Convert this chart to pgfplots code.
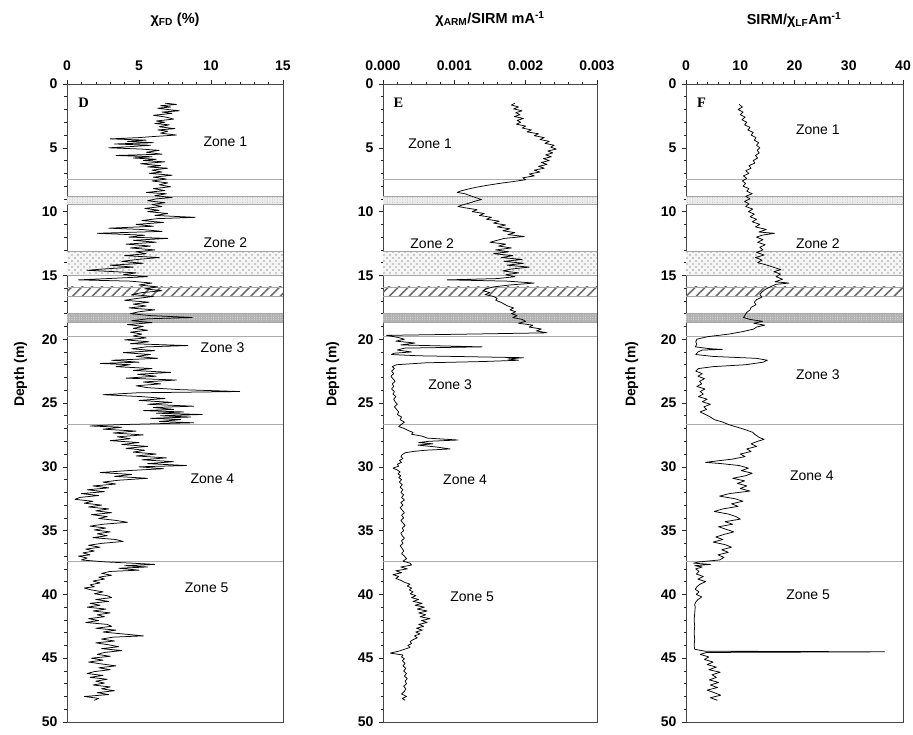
\documentclass[border=0pt]{standalone}
\usepackage{fontspec}
\setmainfont{Liberation Sans}
\newfontfamily\serifbf{Liberation Serif}
\usepackage{pgfplots}
\pgfplotsset{compat=1.18}
\usetikzlibrary{patterns,patterns.meta}

\pgfplotstableread{
d v
1.5 6.8
1.6 7.6
1.7 6.5
1.8 7.2
1.9 6.3
2.0 7.0
2.1 7.8
2.2 6.6
2.3 7.3
2.45 6.0
2.6 6.9
2.75 7.4
2.9 6.2
3.0 6.8
3.1 6.1
3.2 7.1
3.35 6.4
3.5 7.5
3.6 6.3
3.7 7.0
3.85 6.5
4.0 7.6
4.1 6.2
4.2 5.0
4.3 3.0
4.4 5.5
4.5 4.2
4.6 6.0
4.7 3.3
4.8 5.8
4.9 4.5
5.0 2.9
5.1 5.2
5.2 6.4
5.35 5.5
5.5 6.6
5.6 3.4
5.7 5.9
5.8 4.6
5.9 6.2
6.0 5.3
6.1 6.8
6.25 5.1
6.4 6.5
6.5 5.6
6.6 7.0
6.75 5.9
6.9 6.6
7.0 5.7
7.15 7.3
7.3 6.0
7.45 6.9
7.6 5.9
7.75 7.0
7.9 6.4
8.05 7.2
8.2 6.0
8.35 6.8
8.5 5.5
8.6 6.9
8.75 6.1
8.9 7.3
9.0 6.2
9.15 5.6
9.3 6.8
9.45 5.9
9.6 6.6
9.75 5.4
9.9 6.4
10.0 5.6
10.15 7.0
10.3 6.1
10.45 8.9
10.55 6.3
10.7 5.2
10.85 6.7
11.0 4.8
11.15 6.0
11.3 2.9
11.4 5.2
11.55 6.6
11.7 2.1
11.85 5.4
12.0 4.3
12.1 7.0
12.25 4.6
12.4 6.2
12.55 4.1
12.7 5.8
12.85 4.4
13.0 6.1
13.15 4.8
13.3 5.5
13.45 4.0
13.6 6.4
13.75 4.9
13.9 3.8
14.05 5.3
14.2 3.0
14.35 4.6
14.5 2.5
14.6 1.4
14.7 3.2
14.8 4.8
14.95 3.9
15.1 5.6
15.25 2.8
15.35 0.8
15.45 4.4
15.6 5.9
15.75 5.0
15.9 6.3
16.05 5.4
16.2 6.6
16.35 5.2
16.5 4.5
16.65 6.0
16.8 4.9
16.95 4.0
17.1 5.7
17.25 4.6
17.4 5.5
17.55 4.3
17.7 6.1
17.85 5.0
18.0 4.4
18.15 5.8
18.3 8.7
18.4 5.6
18.55 4.5
18.7 5.9
18.85 4.2
19.0 5.3
19.15 4.6
19.3 5.6
19.45 4.4
19.6 5.2
19.75 4.6
19.9 5.5
20.05 4.0
20.2 5.7
20.35 4.4
20.5 8.4
20.6 5.5
20.75 4.5
20.9 6.1
21.05 3.9
21.2 5.8
21.35 4.8
21.5 6.3
21.65 3.1
21.8 5.0
21.9 2.3
22.0 4.4
22.15 3.4
22.3 5.9
22.45 4.6
22.6 7.2
22.75 4.9
22.9 6.2
23.05 4.1
23.2 7.6
23.35 5.3
23.5 6.5
23.65 4.8
23.8 5.6
23.95 7.8
24.1 12.0
24.2 4.9
24.35 2.5
24.5 5.2
24.65 6.8
24.8 5.0
24.95 7.3
25.1 5.6
25.25 8.8
25.35 6.0
25.5 7.4
25.6 5.3
25.7 8.1
25.8 6.2
25.9 9.4
26.0 6.5
26.1 8.6
26.2 5.8
26.3 7.9
26.45 6.4
26.55 8.8
26.7 3.5
26.8 1.6
26.9 3.8
27.05 2.5
27.2 4.8
27.35 3.2
27.5 5.3
27.65 3.5
27.8 4.4
27.95 3.0
28.1 5.0
28.25 3.8
28.4 5.6
28.55 4.1
28.7 5.4
28.85 4.6
29.0 6.2
29.15 4.8
29.3 6.9
29.45 5.2
29.6 7.4
29.75 5.6
29.9 8.3
30.0 5.0
30.15 6.7
30.3 4.2
30.45 2.3
30.6 4.5
30.75 3.3
30.9 5.6
31.05 3.6
31.2 2.5
31.35 3.4
31.5 1.8
31.65 2.9
31.8 1.4
31.95 2.6
32.1 1.0
32.25 2.2
32.4 0.9
32.55 0.55
32.7 1.8
32.85 1.2
33.0 2.4
33.15 1.5
33.3 2.9
33.45 2.0
33.6 3.1
33.75 1.7
33.9 2.8
34.05 2.2
34.2 3.4
34.35 4.2
34.5 2.5
34.65 1.6
34.8 2.7
34.95 1.9
35.1 3.0
35.25 2.1
35.4 2.8
35.55 1.8
35.7 3.4
35.85 3.9
36.0 2.4
36.15 1.5
36.3 2.3
36.45 1.3
36.6 1.9
36.75 1.1
36.9 1.6
37.0 0.8
37.15 1.4
37.3 1.0
37.45 2.6
37.55 4.5
37.65 6.1
37.75 4.0
37.85 5.6
37.95 3.6
38.1 5.0
38.2 3.0
38.35 2.4
38.5 3.1
38.65 2.2
38.8 2.6
38.95 1.8
39.1 2.3
39.25 1.6
39.4 1.9
39.5 1.2
39.65 1.7
39.8 2.5
39.95 1.9
40.1 2.8
40.25 3.1
40.4 2.0
40.55 2.9
40.7 1.6
40.85 2.3
41.0 1.4
41.15 2.7
41.3 1.8
41.45 3.0
41.6 2.1
41.75 2.6
41.9 1.5
42.05 2.2
42.2 1.3
42.35 2.8
42.5 3.1
42.65 2.0
42.8 3.4
42.95 2.5
43.1 3.9
43.25 5.3
43.35 3.2
43.5 2.4
43.65 3.3
43.8 2.0
43.95 2.9
44.1 3.6
44.25 2.4
44.4 3.8
44.55 2.6
44.7 2.1
44.85 3.0
45.0 1.7
45.15 2.5
45.3 1.5
45.45 2.4
45.6 3.4
45.75 2.2
45.9 3.0
46.05 1.9
46.2 1.4
46.35 2.5
46.5 1.6
46.65 2.8
46.8 2.0
46.95 2.6
47.1 1.8
47.25 3.0
47.4 2.4
47.55 3.3
47.7 2.1
47.85 2.9
48.0 1.2
48.15 2.2
48.3 1.9
}\tabD

\pgfplotstableread{
d v
1.5 0.00185
1.65 0.00180
1.8 0.00190
1.95 0.00183
2.1 0.00195
2.25 0.00186
2.4 0.00192
2.55 0.00184
2.7 0.00197
2.85 0.00188
3.0 0.00193
3.15 0.00187
3.3 0.00200
3.45 0.00195
3.6 0.00208
3.75 0.00202
3.9 0.00218
4.05 0.00212
4.2 0.00226
4.35 0.00220
4.5 0.00233
4.65 0.00227
4.8 0.00240
4.95 0.00235
5.1 0.00243
5.25 0.00231
5.4 0.00238
5.55 0.00228
5.7 0.00236
5.85 0.00225
6.0 0.00233
6.15 0.00222
6.3 0.00230
6.45 0.00218
6.6 0.00226
6.75 0.00212
6.9 0.00220
7.05 0.00205
7.2 0.00212
7.35 0.00196
7.5 0.00200
7.65 0.00182
7.8 0.00162
7.95 0.00145
8.1 0.00130
8.25 0.00118
8.4 0.00108
8.5 0.00104
8.6 0.00115
8.75 0.00122
8.9 0.00130
9.05 0.00138
9.2 0.00128
9.35 0.00120
9.5 0.00110
9.6 0.00105
9.7 0.00115
9.85 0.00132
10.0 0.00125
10.15 0.00142
10.3 0.00135
10.45 0.00152
10.6 0.00145
10.75 0.00163
10.9 0.00155
11.05 0.00172
11.2 0.00160
11.35 0.00178
11.5 0.00168
11.65 0.00185
11.8 0.00175
11.95 0.00198
12.1 0.00170
12.25 0.00160
12.4 0.00150
12.55 0.00172
12.7 0.00162
12.85 0.00180
13.0 0.00158
13.15 0.00176
13.3 0.00155
13.45 0.00182
13.6 0.00166
13.75 0.00195
13.9 0.00170
14.05 0.00197
14.2 0.00174
14.35 0.00205
14.5 0.00180
14.65 0.00168
14.8 0.00190
14.95 0.00172
15.1 0.00185
15.25 0.00160
15.35 0.00090
15.45 0.00175
15.6 0.00212
15.75 0.00178
15.9 0.00155
16.05 0.00145
16.2 0.00140
16.35 0.00150
16.5 0.00143
16.65 0.00155
16.8 0.00160
16.95 0.00158
17.1 0.00165
17.25 0.00170
17.4 0.00175
17.55 0.00183
17.7 0.00178
17.85 0.00186
18.0 0.00180
18.15 0.00188
18.3 0.00182
18.45 0.00195
18.6 0.00200
18.75 0.00190
18.9 0.00210
19.05 0.00205
19.2 0.00222
19.35 0.00215
19.5 0.00230
19.6 0.00120
19.7 0.00005
19.85 0.00020
20.0 0.00030
20.15 0.00018
20.3 0.00045
20.45 0.00025
20.6 0.00139
20.7 0.00030
20.85 0.00020
21.0 0.00040
21.1 0.00015
21.2 0.00012
21.3 0.00050
21.45 0.00197
21.55 0.00175
21.65 0.00190
21.75 0.00140
21.85 0.00060
22.0 0.00019
22.15 0.00013
22.3 0.00016
22.5 0.00012
22.7 0.00015
22.9 0.00011
23.1 0.00014
23.3 0.00017
23.5 0.00013
23.7 0.00015
23.9 0.00012
24.1 0.00016
24.3 0.00014
24.5 0.00018
24.7 0.00015
24.9 0.00017
25.1 0.00020
25.3 0.00016
25.5 0.00019
25.7 0.00022
25.9 0.00020
26.1 0.00026
26.3 0.00024
26.5 0.00030
26.7 0.00025
26.85 0.00022
27.0 0.00030
27.15 0.00035
27.3 0.00042
27.45 0.00040
27.6 0.00055
27.75 0.00062
27.9 0.00105
28.0 0.00065
28.1 0.00050
28.2 0.00070
28.3 0.00049
28.45 0.00075
28.6 0.00094
28.7 0.00060
28.8 0.00042
28.9 0.00031
29.05 0.00027
29.2 0.00025
29.35 0.00028
29.5 0.00023
29.65 0.00026
29.8 0.00020
29.95 0.00022
30.1 0.00014
30.25 0.00020
30.4 0.00024
30.55 0.00021
30.7 0.00025
30.85 0.00022
31.0 0.00026
31.2 0.00023
31.4 0.00027
31.6 0.00024
31.8 0.00028
32.0 0.00025
32.2 0.00029
32.4 0.00026
32.6 0.00030
32.8 0.00025
33.0 0.00028
33.2 0.00024
33.4 0.00027
33.6 0.00030
33.8 0.00026
34.0 0.00029
34.2 0.00025
34.4 0.00028
34.6 0.00031
34.8 0.00027
35.0 0.00029
35.2 0.00025
35.4 0.00027
35.6 0.00030
35.8 0.00026
36.0 0.00028
36.2 0.00024
36.4 0.00027
36.6 0.00029
36.8 0.00026
37.0 0.00030
37.2 0.00033
37.4 0.00028
37.55 0.00038
37.7 0.00040
37.85 0.00025
38.0 0.00034
38.15 0.00018
38.3 0.00026
38.45 0.00014
38.6 0.00022
38.75 0.00018
38.9 0.00025
39.05 0.00030
39.2 0.00038
39.35 0.00034
39.5 0.00040
39.65 0.00037
39.8 0.00042
39.95 0.00038
40.1 0.00046
40.25 0.00040
40.4 0.00050
40.55 0.00042
40.7 0.00055
40.85 0.00045
41.0 0.00058
41.15 0.00048
41.3 0.00062
41.45 0.00050
41.6 0.00060
41.75 0.00052
41.9 0.00066
42.05 0.00054
42.2 0.00062
42.35 0.00050
42.5 0.00057
42.65 0.00047
42.8 0.00055
42.95 0.00046
43.1 0.00052
43.25 0.00044
43.4 0.00048
43.55 0.00042
43.7 0.00038
43.85 0.00040
44.0 0.00035
44.15 0.00038
44.3 0.00030
44.45 0.00022
44.6 0.00010
44.75 0.00028
44.9 0.00026
45.05 0.00030
45.2 0.00027
45.4 0.00031
45.6 0.00028
45.8 0.00032
46.0 0.00029
46.2 0.00033
46.4 0.00030
46.6 0.00034
46.8 0.00031
47.0 0.00033
47.2 0.00029
47.4 0.00032
47.6 0.00030
47.8 0.00026
48.0 0.00033
48.15 0.00027
48.3 0.00031
}\tabE

\pgfplotstableread{
d v
1.6 9.8
1.8 10.4
2.0 9.6
2.2 10.5
2.4 10.0
2.6 10.9
2.8 10.3
3.0 11.2
3.2 10.8
3.4 11.8
3.6 11.4
3.8 12.4
4.0 12.0
4.2 12.9
4.4 12.6
4.6 13.4
4.8 13.0
5.0 13.6
5.2 13.1
5.4 13.5
5.6 12.8
5.8 13.2
6.0 12.4
6.2 12.7
6.4 11.6
6.6 12.0
6.8 11.0
7.0 11.6
7.2 10.6
7.4 11.2
7.6 10.4
7.8 11.0
8.0 10.5
8.2 11.6
8.4 11.2
8.6 12.2
8.8 11.0
9.0 11.8
9.2 10.8
9.4 11.6
9.6 11.0
9.8 12.3
10.0 11.5
10.2 12.6
10.4 11.8
10.6 13.0
10.8 12.2
11.0 13.6
11.2 12.8
11.4 14.8
11.6 13.4
11.7 16.3
11.85 14.0
12.0 13.0
12.2 14.2
12.4 13.2
12.6 14.6
12.8 13.6
13.0 14.2
13.2 13.0
13.4 14.4
13.6 12.8
13.8 14.0
14.0 13.2
14.2 15.0
14.4 16.4
14.55 17.5
14.7 16.2
14.9 17.4
15.1 16.6
15.3 17.8
15.5 16.4
15.6 19.0
15.7 16.6
15.9 15.5
16.1 14.6
16.3 14.0
16.5 13.6
16.7 14.0
16.9 13.0
17.1 12.6
17.3 12.9
17.5 12.0
17.7 11.8
17.9 11.2
18.1 10.9
18.3 10.6
18.45 11.8
18.6 14.1
18.75 12.5
18.9 14.5
19.05 13.0
19.2 12.5
19.4 10.5
19.6 7.9
19.8 4.0
20.0 2.0
20.2 1.8
20.4 2.0
20.6 1.7
20.75 4.5
20.8 6.7
20.85 3.0
21.0 2.2
21.2 1.8
21.35 5.0
21.5 13.0
21.65 15.0
21.8 14.2
22.0 11.0
22.15 5.0
22.3 2.3
22.5 1.8
22.7 3.0
22.9 2.2
23.1 3.4
23.3 2.5
23.5 2.9
23.7 2.0
23.9 3.5
24.1 2.6
24.3 3.2
24.5 2.3
24.7 3.9
24.9 3.0
25.1 4.5
25.3 3.3
25.5 3.8
25.7 2.6
25.9 3.6
26.1 4.5
26.3 5.2
26.5 6.8
26.7 7.9
26.9 9.5
27.1 11.0
27.3 12.3
27.5 12.8
27.7 13.5
27.85 14.4
28.0 13.2
28.2 12.0
28.4 13.0
28.6 11.2
28.8 12.0
29.0 10.0
29.2 10.9
29.4 8.5
29.55 5.5
29.65 3.6
29.75 6.5
29.9 9.8
30.1 11.5
30.3 10.2
30.5 12.2
30.7 11.0
30.9 8.6
31.1 10.8
31.3 9.5
31.5 11.2
31.7 10.0
31.9 11.8
32.1 8.0
32.3 6.2
32.5 9.0
32.7 10.5
32.9 8.4
33.1 9.6
33.3 6.8
33.5 5.2
33.7 7.8
33.9 9.2
34.1 10.0
34.3 7.2
34.5 8.6
34.7 6.0
34.9 7.4
35.1 8.8
35.3 7.0
35.5 5.5
35.7 6.8
35.9 5.0
36.1 7.2
36.3 8.4
36.5 6.6
36.7 7.8
36.9 5.9
37.1 7.0
37.3 6.2
37.45 2.5
37.55 1.4
37.65 4.5
37.75 1.6
37.85 3.0
38.0 1.8
38.2 2.4
38.4 1.9
38.6 3.2
38.8 2.2
39.0 3.6
39.2 2.6
39.4 2.0
39.6 1.7
39.8 2.4
40.0 1.9
40.2 2.9
40.4 2.2
40.6 1.8
40.8 1.6
41.0 1.7
41.5 1.6
42.0 1.5
42.5 1.6
43.0 1.5
43.5 1.6
44.0 1.5
44.3 1.6
44.45 3.5
44.5 36.6
44.55 3.8
44.7 2.6
44.9 4.2
45.1 3.4
45.3 5.0
45.5 3.9
45.7 5.6
45.9 4.2
46.1 6.3
46.3 4.8
46.5 5.6
46.7 4.3
46.9 6.0
47.1 4.5
47.3 5.8
47.5 3.9
47.7 5.2
47.9 6.4
48.1 4.5
48.3 5.8
}\tabF

\newcommand{\zonebands}[1]{%
  \fill[gray!14] (axis cs:0,8.8) rectangle (axis cs:#1,9.4);
  \fill[pattern={Dots[distance=2.5pt,radius=0.45pt]},pattern color=gray!70] (axis cs:0,8.8) rectangle (axis cs:#1,9.4);
  \draw[gray!70,line width=0.5pt] (axis cs:0,8.8) -- (axis cs:#1,8.8) (axis cs:0,9.4) -- (axis cs:#1,9.4);
  \fill[gray!8] (axis cs:0,13.1) rectangle (axis cs:#1,15.0);
  \fill[pattern={Dots[distance=6pt,radius=0.9pt]},pattern color=gray!75] (axis cs:0,13.1) rectangle (axis cs:#1,15.0);
  \fill[pattern={Dots[distance=6pt,radius=0.9pt,xshift=3pt,yshift=3pt]},pattern color=gray!75] (axis cs:0,13.1) rectangle (axis cs:#1,15.0);
  \draw[gray!70,line width=0.5pt] (axis cs:0,13.1) -- (axis cs:#1,13.1) (axis cs:0,15.0) -- (axis cs:#1,15.0);
  \fill[pattern={Lines[angle=45,distance=7pt,line width=1.6pt]},pattern color=gray!85!black] (axis cs:0,15.9) rectangle (axis cs:#1,16.6);
  \draw[gray!70,line width=0.5pt] (axis cs:0,15.9) -- (axis cs:#1,15.9) (axis cs:0,16.6) -- (axis cs:#1,16.6);
  \fill[gray!62] (axis cs:0,17.95) rectangle (axis cs:#1,18.65);
  \fill[pattern={Dots[distance=2.4pt,radius=0.55pt]},pattern color=gray!20] (axis cs:0,17.95) rectangle (axis cs:#1,18.65);
  \draw[gray!70,line width=0.5pt] (axis cs:0,17.95) -- (axis cs:#1,17.95) (axis cs:0,18.65) -- (axis cs:#1,18.65);
  \draw[gray!65,line width=0.7pt] (axis cs:0,7.5) -- (axis cs:#1,7.5);
  \draw[gray!65,line width=0.7pt] (axis cs:0,19.75) -- (axis cs:#1,19.75);
  \draw[gray!65,line width=0.7pt] (axis cs:0,26.65) -- (axis cs:#1,26.65);
  \draw[gray!65,line width=0.7pt] (axis cs:0,37.4) -- (axis cs:#1,37.4);
}

\tikzset{
  zone/.style={font=\fontsize{14}{15}\selectfont},
  letter/.style={font=\fontsize{14.5}{15}\selectfont\serifbf\bfseries, anchor=west},
  ttl/.style={font=\fontsize{14.5}{15}\selectfont\bfseries},
}
\pgfplotsset{
  panel/.style={
    scale only axis, height=638pt, anchor=south west,
    y dir=reverse, ymin=0, ymax=50, ytick={0,5,...,50}, minor y tick num=4,
    xtick pos=upper, ytick pos=left, xticklabel pos=upper,
    tick align=outside, major tick length=4pt, minor tick length=2.5pt,
    axis line style={gray!55!black, line width=0.8pt},
    every tick/.style={gray!30!black, line width=0.6pt},
    /pgf/number format/assume math mode=true,
    ticklabel style={font=\fontsize{14}{15}\selectfont\bfseries},
    xticklabel style={yshift=6pt},
    yticklabel style={xshift=-2pt},
    ylabel={Depth (m)},
    ylabel style={font=\fontsize{14}{15}\selectfont\bfseries, anchor=center},
  },
  trace/.style={black, line width=0.75pt, no markers, line join=round},
}

\begin{document}
\begin{tikzpicture}
\useasboundingbox (0,0) rectangle (913pt,735pt);

% Panel D
\begin{axis}[panel, at={(67pt,13pt)}, width=216pt,
  xmin=0, xmax=15, xtick={0,5,10,15}, minor x tick num=4,
  ylabel style={at={(axis description cs:-0.215,0.545)}}]
  \zonebands{15}
  \addplot[trace] table[x=v,y=d] {\tabD};
  \node[letter] at (axis cs:0.55,1.5) {D};
  \node[zone] at (axis cs:11.0,4.5) {Zone 1};
  \node[zone] at (axis cs:11.0,12.4) {Zone 2};
  \node[zone] at (axis cs:10.8,20.7) {Zone 3};
  \node[zone] at (axis cs:10.1,30.9) {Zone 4};
  \node[zone] at (axis cs:9.7,39.5) {Zone 5};
\end{axis}

% Panel E
\begin{axis}[panel, at={(383pt,13pt)}, width=214pt,
  xmin=0, xmax=0.003, xtick={0,0.001,0.002,0.003},
  xticklabels={0.000,0.001,0.002,0.003}, minor x tick num=4,
  scaled x ticks=false,
  ylabel style={at={(axis description cs:-0.235,0.545)}}]
  \zonebands{0.003}
  \addplot[trace] table[x=v,y=d] {\tabE};
  \node[letter] at (axis cs:0.0001,1.5) {E};
  \node[zone] at (axis cs:0.00066,4.7) {Zone 1};
  \node[zone] at (axis cs:0.00069,12.5) {Zone 2};
  \node[zone] at (axis cs:0.00094,23.6) {Zone 3};
  \node[zone] at (axis cs:0.00115,31.0) {Zone 4};
  \node[zone] at (axis cs:0.00125,40.2) {Zone 5};
\end{axis}

% Panel F
\begin{axis}[panel, at={(686pt,13pt)}, width=217pt,
  xmin=0, xmax=40, xtick={0,10,20,30,40}, minor x tick num=4,
  ylabel style={at={(axis description cs:-0.25,0.545)}}]
  \zonebands{40}
  \addplot[trace] table[x=v,y=d] {\tabF};
  \node[letter] at (axis cs:1.4,1.5) {F};
  \node[zone] at (axis cs:24.3,3.6) {Zone 1};
  \node[zone] at (axis cs:24.3,12.5) {Zone 2};
  \node[zone] at (axis cs:24.3,22.8) {Zone 3};
  \node[zone] at (axis cs:23.2,30.7) {Zone 4};
  \node[zone] at (axis cs:22.5,40.0) {Zone 5};
\end{axis}

% Titles
\node[ttl] at (175pt,715pt) {χ\textsubscript{FD} (\%)};
\node[ttl] at (490pt,716pt) {χ\textsubscript{ARM}/SIRM mA\textsuperscript{-1}};
\node[ttl] at (794pt,715pt) {SIRM/χ\textsubscript{LF}Am\textsuperscript{-1}};
\end{tikzpicture}
\end{document}
